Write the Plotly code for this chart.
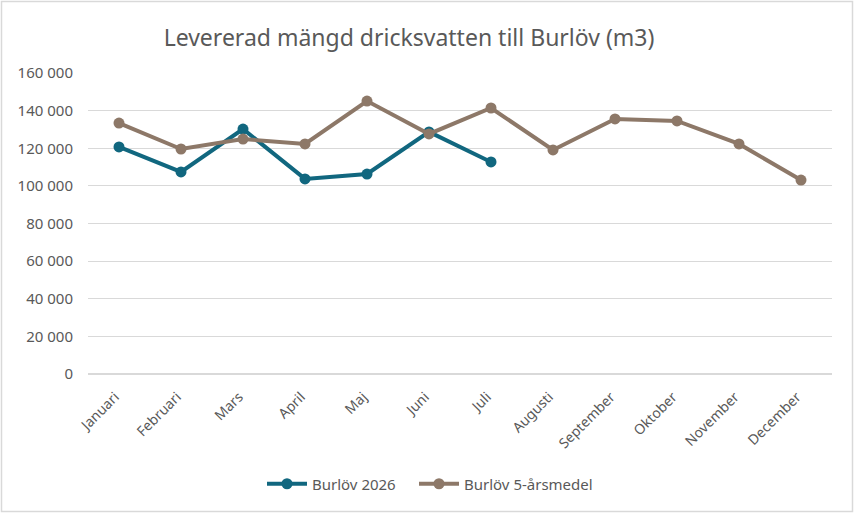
import plotly.graph_objects as go

manader = ["Januari", "Februari", "Mars", "April", "Maj", "Juni", "Juli",
           "Augusti", "September", "Oktober", "November", "December"]
burlov_2026 = [120700, 107400, 130200, 103700, 106300, 128700, 112700]
burlov_5ar = [133400, 119600, 124900, 122300, 145100, 127600, 141400,
              119100, 135600, 134500, 122300, 103100]

BLA = "#11677f"
BRUN = "#8d7868"
GRA = "#595959"

fig = go.Figure()
fig.add_trace(go.Scatter(
    x=manader[:len(burlov_2026)], y=burlov_2026, mode="lines+markers",
    name="Burlöv 2026", line=dict(color=BLA, width=4), marker=dict(size=11, color=BLA),
    legend="legend",
))
fig.add_trace(go.Scatter(
    x=manader, y=burlov_5ar, mode="lines+markers",
    name="Burlöv 5-årsmedel", line=dict(color=BRUN, width=4), marker=dict(size=11, color=BRUN),
    legend="legend2",
))

# ram runt hela diagrammet
bredd, hojd = 744, 301
fig.add_shape(type="rect", xref="paper", yref="paper",
              x0=(1.5 - 88) / bredd, x1=(852.5 - 88) / bredd,
              y0=(374 - 511.5) / hojd, y1=(374 - 1.5) / hojd,
              line=dict(color="#d9d9d9", width=1.5), layer="below")

legend_stil = dict(orientation="h", xanchor="left", y=(374 - 484) / hojd, yanchor="middle",
                   itemwidth=40, font=dict(size=15, color=GRA), bgcolor="rgba(0,0,0,0)")

fig.update_layout(
    width=855, height=514,
    margin=dict(l=88, r=23, t=73, b=140, autoexpand=False),
    paper_bgcolor="white", plot_bgcolor="white",
    separators=", ",
    font=dict(family="Noto Sans", color=GRA, size=12),
    title=dict(text="Levererad mängd dricksvatten till Burlöv (m3)",
               x=409 / 855, xanchor="center", y=1 - 38 / 514, yanchor="middle",
               font=dict(size=23, color=GRA)),
    showlegend=True,
    legend=dict(x=(262 - 88) / bredd, **legend_stil),
    legend2=dict(x=(414 - 88) / bredd, **legend_stil),
    hovermode=False,
)
fig.update_xaxes(range=[-0.5, 11.5], tickangle=-45, showgrid=False, showline=False, ticks="",
                 automargin=False, ticklabelshift=-4, ticklabelstandoff=11,
                 tickfont=dict(size=14, color=GRA))
fig.update_yaxes(range=[0, 160000], dtick=20000, tickformat=",d", gridcolor="#d9d9d9",
                 gridwidth=1, zeroline=True, zerolinecolor="#d9d9d9", ticks="", automargin=False,
                 ticklabelstandoff=14, tickfont=dict(size=15, color=GRA))

fig.write_html("out.html", config={"displayModeBar": False},
               post_script="document.body.style.margin='0';document.body.style.overflow='hidden';")
